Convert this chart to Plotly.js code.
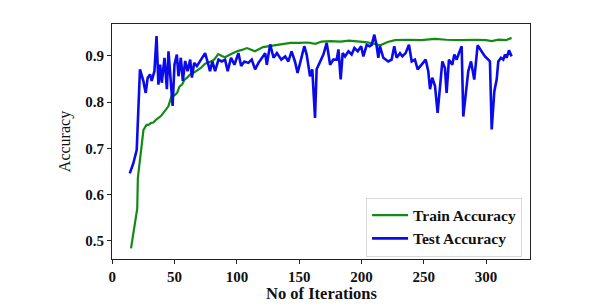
<!DOCTYPE html>
<html>
<head>
<meta charset="utf-8">
<script src="https://cdn.plot.ly/plotly-3.0.1.min.js"></script>
<style>html,body{margin:0;padding:0;background:#fff;}#chart{width:591px;height:306px;}</style>
</head>
<body>
<div id="chart"></div>
<script>
const trainIter = [15,17.5,20,20.5,23,25,27.5,29,31,33,35,37,39,41,43,45,47.5,50,52,54,56,58,60,62.5,65,68,71,74.5,77,80,82,85,88,90.5,93,96,100,104,108,111,114.5,118,121,126,131,137,143,150,157,163,168,175,183,190,197,203,209,215,221,227,237,248,259,268,280,292,300,304.5,310,316,320.5];
const trainAcc = [0.484,0.53,0.57,0.636,0.70,0.740,0.751,0.751,0.755,0.756,0.762,0.766,0.770,0.777,0.783,0.791,0.813,0.815,0.820,0.834,0.838,0.849,0.853,0.860,0.863,0.868,0.874,0.883,0.885,0.889,0.893,0.904,0.900,0.897,0.901,0.905,0.910,0.913,0.917,0.914,0.910,0.915,0.919,0.921,0.923,0.925,0.928,0.928,0.929,0.926,0.931,0.932,0.931,0.933,0.932,0.930,0.927,0.923,0.930,0.934,0.935,0.934,0.937,0.935,0.934,0.935,0.934,0.932,0.935,0.934,0.939];

const testIter = [14,16.9,19.6,21.4,22.2,24.9,26.8,28.4,30.3,31.6,33.8,35.5,37,38.4,39.7,41.9,43.8,45.1,46.7,48.4,49.9,51.8,53.1,55,56.6,58.5,60.4,62.5,63.9,65.7,67.9,70.6,74.5,77.1,78.4,80.3,82.5,85.2,87.8,90.5,92.6,95.3,98,101.2,103.4,106,109.2,111.9,114.6,117.3,120.5,122.7,124,126.7,129.4,132.1,135.6,138.8,141.3,143.9,146.6,148.7,151.4,154.1,156,158.7,160.5,162.7,164,166.7,169.4,172.1,174.8,177.4,180.1,181.5,183.3,184.9,186.8,189.5,192.1,194.3,197,199.7,201.5,204.2,206.5,208.2,210.3,212.2,213.5,214.8,217.5,221.5,224.2,226.3,228.2,230.9,232.8,235.4,238.1,240.3,242.9,245.1,248.3,251.5,253.6,255,256.8,259,261.1,263,264.9,267,268.3,270.2,272.9,274.5,276.4,278.2,280.4,281.7,283.6,285.7,287.9,290.5,293.2,296.4,299.1,301.8,303.1,304.5,306.6,308.5,309.8,311.9,313.8,315.2,316.5,318.4,320.5];
const testAcc = [0.646,0.668,0.697,0.826,0.871,0.846,0.820,0.853,0.860,0.846,0.867,0.943,0.838,0.881,0.842,0.896,0.828,0.910,0.853,0.792,0.881,0.903,0.856,0.896,0.846,0.889,0.867,0.892,0.853,0.885,0.878,0.889,0.906,0.881,0.867,0.888,0.867,0.892,0.888,0.892,0.867,0.896,0.881,0.906,0.878,0.888,0.885,0.892,0.871,0.885,0.896,0.906,0.881,0.925,0.896,0.906,0.892,0.899,0.888,0.910,0.888,0.863,0.892,0.921,0.903,0.856,0.871,0.766,0.871,0.888,0.903,0.928,0.881,0.892,0.892,0.914,0.849,0.906,0.899,0.910,0.903,0.917,0.910,0.921,0.899,0.924,0.921,0.924,0.946,0.921,0.896,0.921,0.896,0.888,0.892,0.921,0.896,0.906,0.899,0.906,0.924,0.888,0.892,0.871,0.881,0.892,0.867,0.828,0.853,0.835,0.777,0.835,0.888,0.874,0.820,0.892,0.881,0.903,0.892,0.906,0.921,0.769,0.823,0.867,0.888,0.849,0.923,0.910,0.899,0.892,0.888,0.741,0.823,0.849,0.888,0.896,0.892,0.903,0.896,0.912,0.899];

const seriesNames = ['Train Accuracy', 'Test Accuracy'];
const xTicks = [0,50,100,150,200,250,300];
const yTicks = [0.5,0.6,0.7,0.8,0.9];
const xTitle = 'No of Iterations';
const yTitle = 'Accuracy';

const serif = '"Liberation Serif", "Times New Roman", serif';

const traces = [
  {x: trainIter, y: trainAcc, name: seriesNames[0], mode: 'lines', line: {color: '#138a13', width: 2.2}},
  {x: testIter, y: testAcc, name: seriesNames[1], mode: 'lines', line: {color: '#0a0aea', width: 2.6}}
];

const axisCommon = {
  showgrid: false, zeroline: false, showline: true, linecolor: '#222', linewidth: 1,
  mirror: true, ticks: 'outside', ticklen: 4, tickcolor: '#222',
  tickfont: {family: serif, size: 15, color: '#111', weight: 'bold'}
};

const layout = {
  width: 591, height: 306,
  margin: {l: 112, r: 61, t: 24, b: 47},
  paper_bgcolor: '#fff', plot_bgcolor: '#fff',
  showlegend: true,
  xaxis: Object.assign({}, axisCommon, {
    range: [-0.25, 335.25], tickvals: xTicks, ticktext: xTicks.map(String)
  }),
  yaxis: Object.assign({}, axisCommon, {
    range: [0.461, 0.969], tickvals: yTicks, ticktext: yTicks.map(v => v.toFixed(1)),
    title: {text: yTitle, font: {family: serif, size: 16, color: '#111'}, standoff: 10}
  }),
  annotations: [{
    text: xTitle, xref: 'paper', yref: 'paper', x: 0.5, y: -0.145,
    xanchor: 'center', yanchor: 'middle', showarrow: false,
    font: {family: serif, size: 16.5, color: '#111', weight: 'bold'}
  }],
  legend: {
    x: 0.981, y: 0.01, xanchor: 'right', yanchor: 'bottom',
    bgcolor: '#fff', bordercolor: '#d8d8d8', borderwidth: 1,
    font: {family: serif, size: 15.5, color: '#111', weight: 'bold'},
    tracegroupgap: 0, itemwidth: 36
  }
};

Plotly.newPlot('chart', traces, layout, {displayModeBar: false, staticPlot: true});
</script>
</body>
</html>
